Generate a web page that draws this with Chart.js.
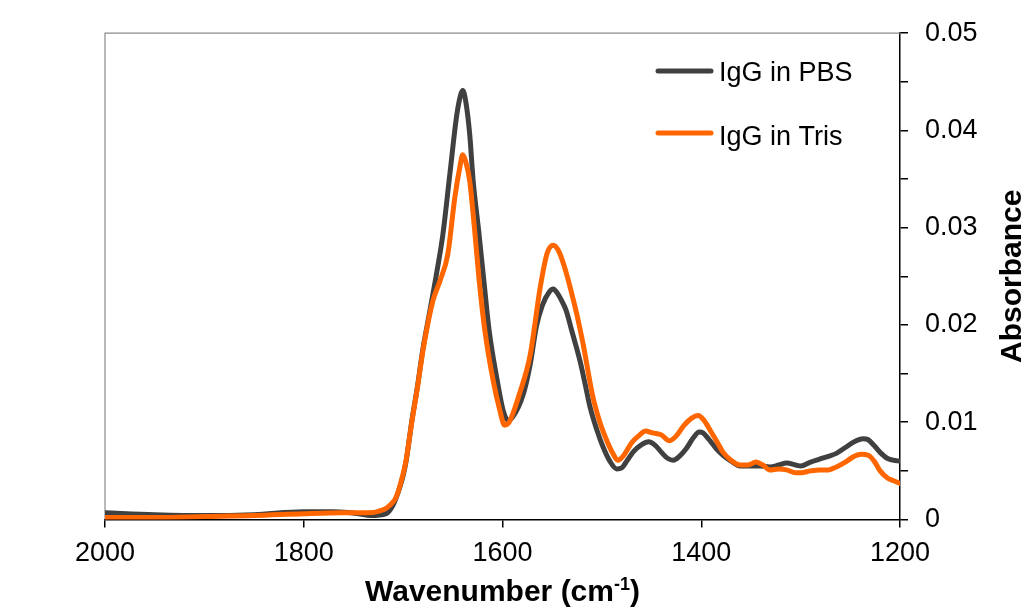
<!DOCTYPE html>
<html>
<head>
<meta charset="utf-8">
<script src="https://cdn.jsdelivr.net/npm/chart.js@4.4.1/dist/chart.umd.min.js"></script>
<style>
html,body{margin:0;padding:0;background:#fff;}
#wrap{width:1031px;height:611px;position:relative;}
</style>
</head>
<body>
<div id="wrap"><canvas id="c" width="1031" height="611"></canvas></div>
<script>
// Wavenumbers (cm-1) and absorbance values
const pbsWavenumber = [2000,1950,1900,1850,1800,1770,1745,1733,1717,1710,1705,1700,1697,1691,1686,1680,1673,1666,1660,1653,1646,1642,1640,1637,1633,1629.5,1624,1618.7,1613.4,1605.3,1599.3,1594.5,1590,1579,1572,1566,1560,1553,1549,1545,1540,1536,1530,1522,1517,1512,1505,1499,1492,1485,1480,1475,1468,1460,1453,1446,1440,1434,1428,1422,1415,1408,1402,1398,1392,1385,1378,1370,1361,1350,1340,1331,1322,1314,1305,1300,1290,1281,1272,1264,1255,1246,1237,1232,1226,1220,1213,1207,1200];
const pbsAbsorbance = [0.0007,0.0005,0.0004,0.0005,0.0008,0.0008,0.0006,0.0004,0.0006,0.0015,0.0028,0.0045,0.0060,0.0103,0.0134,0.0176,0.0215,0.0255,0.0293,0.0355,0.0416,0.0437,0.0441,0.0430,0.0396,0.0348,0.0297,0.0245,0.0194,0.0143,0.0112,0.0102,0.0105,0.0129,0.0160,0.0198,0.0220,0.0234,0.0237,0.0233,0.0224,0.0215,0.0193,0.0163,0.0140,0.0116,0.0092,0.0075,0.0060,0.0052,0.0053,0.0060,0.0070,0.0077,0.0080,0.0076,0.0069,0.0063,0.0061,0.0065,0.0073,0.0084,0.0090,0.0089,0.0082,0.0073,0.0066,0.0060,0.0055,0.0055,0.0055,0.0054,0.0056,0.0058,0.0056,0.0055,0.0059,0.0062,0.0065,0.0068,0.0074,0.0080,0.0083,0.0082,0.0076,0.0069,0.0063,0.0061,0.0060];

const trisWavenumber = [2000,1950,1900,1850,1800,1760,1735,1720,1713,1707,1700,1697,1691,1686,1680,1670,1663,1655,1648,1643,1640,1637,1633,1628,1623.4,1617.7,1609.4,1602.6,1598,1594,1583,1572,1562,1555,1549,1544,1538,1532,1525,1519,1509,1502,1495,1489,1484,1478,1470,1463,1456,1449,1440,1432,1425,1418,1410,1403,1398,1390,1383,1378,1370,1361,1353,1345,1338,1331,1322,1314,1305,1300,1290,1281,1272,1264,1255,1246,1239,1232,1226,1220,1213,1207,1200];
const trisAbsorbance = [0.0002,0.0002,0.0003,0.0004,0.0006,0.0007,0.0007,0.0010,0.0015,0.0023,0.0047,0.0061,0.0102,0.0133,0.0174,0.0225,0.0245,0.0273,0.0331,0.0362,0.0375,0.0368,0.0348,0.0297,0.0245,0.0194,0.0143,0.0112,0.0097,0.0099,0.0129,0.0170,0.0239,0.0274,0.0282,0.0277,0.0261,0.0239,0.0210,0.0181,0.0126,0.0100,0.0081,0.0068,0.0061,0.0066,0.0079,0.0086,0.0091,0.0089,0.0087,0.0081,0.0086,0.0096,0.0104,0.0107,0.0103,0.0090,0.0078,0.0069,0.0061,0.0056,0.0056,0.0059,0.0056,0.0051,0.0052,0.0051,0.0048,0.0048,0.0050,0.0051,0.0051,0.0054,0.0059,0.0065,0.0067,0.0066,0.0060,0.0050,0.0043,0.0040,0.0037];

const seriesNames = ['IgG in PBS', 'IgG in Tris'];
const xTickValues = [2000, 1800, 1600, 1400, 1200];
const yMajorTicks = [0, 0.01, 0.02, 0.03, 0.04, 0.05];
const yMinorTicks = [0.005, 0.015, 0.025, 0.035, 0.045];
const xTitle = ['Wavenumber (cm', '-1', ')'];
const yTitle = 'Absorbance';

const colors = ['#404040', '#ff6600'];
const FONT = '"Liberation Sans", Arial, Helvetica, sans-serif';
Chart.defaults.font.family = FONT;

function toXY(xs, ys){ return xs.map((x,i)=>({x:x, y:ys[i]})); }

const decorPlugin = {
  id: 'decor',
  beforeDatasetsDraw(chart){
    const {ctx, chartArea:a} = chart;
    ctx.save();
    ctx.strokeStyle = '#8a8a8a';
    ctx.lineWidth = 1.2;
    ctx.beginPath();
    ctx.moveTo(a.left, a.bottom);
    ctx.lineTo(a.left, a.top);
    ctx.lineTo(a.right, a.top);
    ctx.stroke();
    ctx.restore();
  },
  afterDraw(chart){
    const {ctx, chartArea:a} = chart;
    ctx.save();
    // legend
    const rows = [{y:71, base:81}, {y:133, base:145}];
    rows.forEach((r,i)=>{
      ctx.strokeStyle = colors[i];
      ctx.lineWidth = 5;
      ctx.lineCap = 'round';
      ctx.beginPath();
      ctx.moveTo(658, r.y);
      ctx.lineTo(711, r.y);
      ctx.stroke();
      ctx.fillStyle = '#000';
      ctx.font = '27px ' + FONT;
      ctx.textAlign = 'left';
      ctx.textBaseline = 'alphabetic';
      ctx.fillText(seriesNames[i], 719, r.base);
    });
    // x title with superscript
    const bigF = 'bold 30px ' + FONT, supF = 'bold 18px ' + FONT;
    ctx.font = bigF; const w1 = ctx.measureText(xTitle[0]).width; const w3 = ctx.measureText(xTitle[2]).width;
    ctx.font = supF; const w2 = ctx.measureText(xTitle[1]).width;
    const total = w1 + w2 + w3;
    let x = (a.left + a.right)/2 - total/2;
    const base = 601;
    ctx.fillStyle = '#000';
    ctx.textAlign = 'left';
    ctx.textBaseline = 'alphabetic';
    ctx.font = bigF; ctx.fillText(xTitle[0], x, base); x += w1;
    ctx.font = supF; ctx.fillText(xTitle[1], x, base - 11); x += w2;
    ctx.font = bigF; ctx.fillText(xTitle[2], x, base);
    // y title rotated
    ctx.translate(1021, (a.top + a.bottom)/2);
    ctx.rotate(-Math.PI/2);
    ctx.textAlign = 'center';
    ctx.font = bigF;
    ctx.fillText(yTitle, 0, 0);
    ctx.restore();
  }
};

new Chart(document.getElementById('c'), {
  type: 'line',
  data: {
    datasets: [
      {label: seriesNames[0], data: toXY(pbsWavenumber, pbsAbsorbance), borderColor: colors[0], borderWidth: 5, pointRadius: 0, cubicInterpolationMode: 'monotone', order: 1, borderCapStyle: 'round', borderJoinStyle: 'round'},
      {label: seriesNames[1], data: toXY(trisWavenumber, trisAbsorbance), borderColor: colors[1], borderWidth: 5, pointRadius: 0, cubicInterpolationMode: 'monotone', order: 0, borderCapStyle: 'round', borderJoinStyle: 'round'}
    ]
  },
  options: {
    responsive: false,
    animation: false,
    devicePixelRatio: 1,
    layout: {padding: {top: 31.7, left: 105, right: 0, bottom: 0}},
    plugins: {legend: {display: false}, tooltip: {enabled: false}},
    scales: {
      x: {
        type: 'linear', reverse: true, min: 1200, max: 2000, position: 'bottom',
        afterBuildTicks: s => { s.ticks = xTickValues.map(v => ({value: v})); },
        afterFit: s => { s.height = 91.5; },
        ticks: {color: '#000', font: {size: 27}, padding: 10, maxRotation: 0, autoSkip: false, callback: v => String(v)},
        grid: {drawOnChartArea: false, drawTicks: true, tickLength: 8, color: '#000', lineWidth: 1.5},
        border: {color: '#000', width: 1.5}
      },
      y: {
        type: 'linear', position: 'right', min: 0, max: 0.05,
        afterBuildTicks: s => { s.ticks = yMajorTicks.concat(yMinorTicks).sort((p,q)=>p-q).map(v => ({value: v})); },
        afterFit: s => { s.width = 131; },
        ticks: {color: '#000', font: {size: 27}, padding: 17, autoSkip: false,
          callback: v => { const i = yMajorTicks.findIndex(m => Math.abs(m - v) < 1e-9); return i >= 0 ? String(yMajorTicks[i]) : ''; }},
        grid: {drawOnChartArea: false, drawTicks: true, tickLength: 8, color: '#000', lineWidth: 1.5},
        border: {color: '#000', width: 1.5}
      }
    }
  },
  plugins: [decorPlugin]
});
</script>
</body>
</html>
